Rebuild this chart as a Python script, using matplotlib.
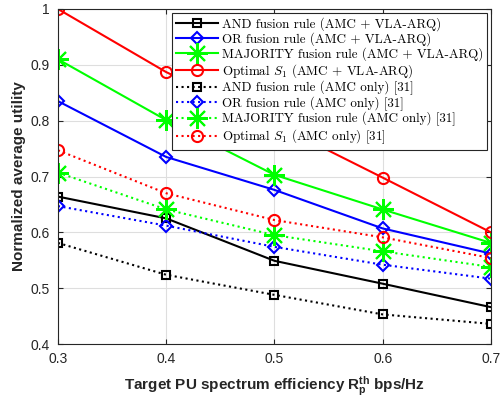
import matplotlib.pyplot as plt
from matplotlib.font_manager import FontProperties

plt.rcParams['font.family'] = ['Liberation Sans', 'DejaVu Sans']
plt.rcParams['mathtext.fontset'] = 'custom'
plt.rcParams['mathtext.rm'] = 'Liberation Sans'
plt.rcParams['mathtext.it'] = 'Liberation Sans:italic'
plt.rcParams['mathtext.bf'] = 'Liberation Sans:bold'

# target PU spectrum efficiency
x = [0.3, 0.4, 0.5, 0.6, 0.7]

# AMC + VLA-ARQ
and_vla = [0.664, 0.625, 0.549, 0.508, 0.466]
or_vla = [0.835, 0.735, 0.676, 0.607, 0.562]
maj_vla = [0.910, 0.801, 0.703, 0.641, 0.581]
opt_vla = [1.000, 0.887, 0.795, 0.698, 0.600]

# AMC only [31]
and_amc = [0.581, 0.524, 0.488, 0.453, 0.436]
or_amc = [0.647, 0.612, 0.574, 0.542, 0.517]
maj_amc = [0.707, 0.641, 0.595, 0.566, 0.538]
opt_amc = [0.747, 0.670, 0.622, 0.591, 0.554]

labels = ['AND fusion rule (AMC + VLA-ARQ)',
          'OR fusion rule (AMC + VLA-ARQ)',
          'MAJORITY fusion rule (AMC + VLA-ARQ)',
          'Optimal $S_1$ (AMC + VLA-ARQ)',
          'AND fusion rule (AMC only) [31]',
          'OR fusion rule (AMC only) [31]',
          'MAJORITY fusion rule (AMC only) [31]',
          'Optimal $S_1$ (AMC only) [31]']

fig = plt.figure(figsize=(5.04, 4.0), dpi=100)
ax = fig.add_axes([0.115, 0.14, 0.859, 0.8375])

series = [and_vla, or_vla, maj_vla, opt_vla, and_amc, or_amc, maj_amc, opt_amc]
colors = ['k', 'b', '#00ff00', 'r'] * 2
markers = ['s', 'D', (8, 2, 0), 'o'] * 2
msizes = [6, 6, 15, 8] * 2
styles = ['-'] * 4 + [':'] * 4

for y, c, m, ms, ls, lab in zip(series, colors, markers, msizes, styles, labels):
    ax.plot(x, y, color=c, ls=ls, lw=1.5, marker=m, ms=ms,
            mfc='none', mec=c, mew=1.5, label=lab)

ax.set_xlim(0.3, 0.7)
ax.set_ylim(0.4, 1.0)
ax.set_xticks(x)
ax.set_xticklabels(['0.3', '0.4', '0.5', '0.6', '0.7'])
ax.set_yticks([0.4, 0.5, 0.6, 0.7, 0.8, 0.9, 1.0])
ax.set_yticklabels(['0.4', '0.5', '0.6', '0.7', '0.8', '0.9', '1'])
ax.grid(True, color='#dedede', lw=0.8)
ax.set_axisbelow(True)
ax.tick_params(direction='in', labelsize=10, colors='#262626', top=True,
               right=True, pad=6)
for s in ax.spines.values():
    s.set_color('#262626')

ax.set_xlabel(r'Target PU spectrum efficiency $\mathbf{R_p^{th}}$ bps/Hz',
              fontsize=11, fontweight='bold', color='#262626', labelpad=6)
ax.set_ylabel('Normalized average utility', fontsize=11, fontweight='bold',
              color='#262626', labelpad=3)

leg_font = FontProperties(family='cmr10', size=9.4, math_fontfamily='cm')
leg = ax.legend(loc='upper right', prop=leg_font, fancybox=False,
                framealpha=1, edgecolor='#262626', handlelength=3.2,
                borderaxespad=0.3, labelspacing=0.1, borderpad=0.3,
                handletextpad=0.3)
leg.get_frame().set_linewidth(0.8)

fig.savefig('out.png', dpi=100)
